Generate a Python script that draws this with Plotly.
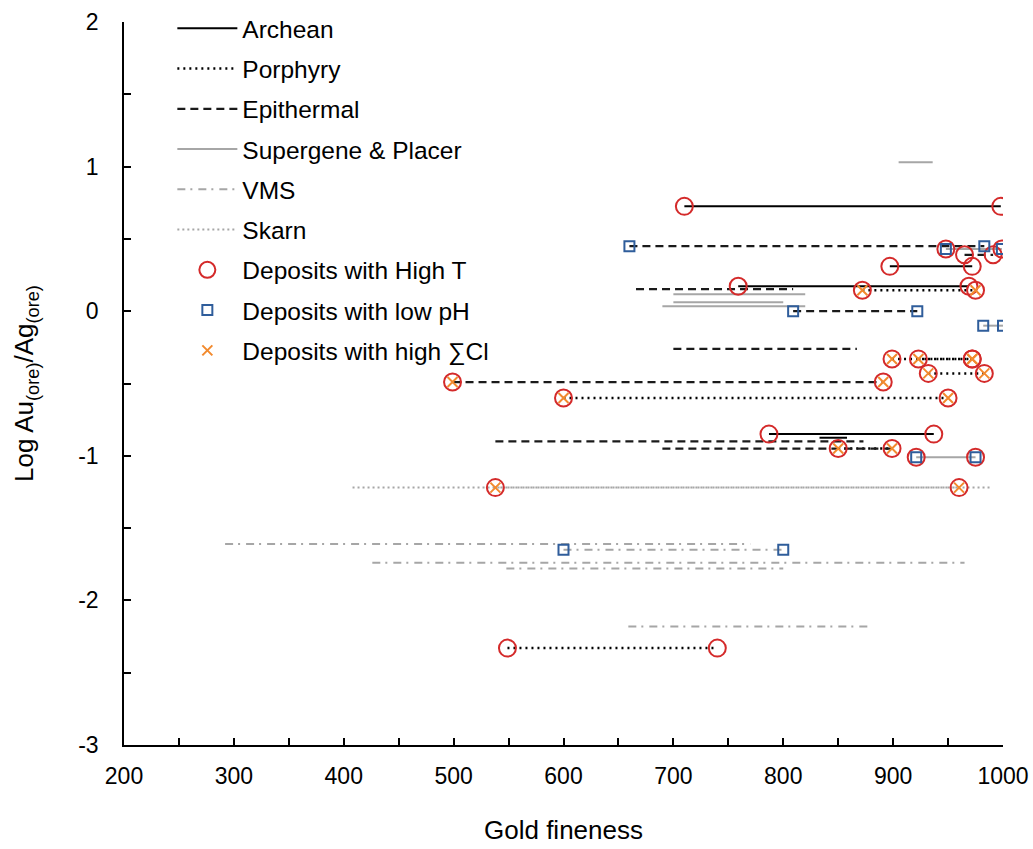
import plotly.graph_objects as go

# Gold fineness ranges of individual deposits (start, end) and log(Au/Ag) of ore
seg_type = [
    "Supergene & Placer", "Archean", "Epithermal", "Supergene & Placer", "Epithermal",
    "Archean", "Archean", "Epithermal", "Porphyry",
    "Supergene & Placer", "Supergene & Placer", "Supergene & Placer",
    "Epithermal", "Supergene & Placer", "Epithermal",
    "Porphyry", "Porphyry", "Porphyry", "Epithermal", "Porphyry",
    "Archean", "Archean", "Epithermal", "Epithermal", "Porphyry",
    "Supergene & Placer", "Skarn", "Skarn",
    "VMS", "VMS", "VMS", "VMS", "VMS", "Porphyry",
]
seg_start = [
    905, 710, 660, 948, 965,
    897, 759, 666, 872,
    700, 700, 690,
    809, 982, 700,
    899, 923, 932, 499, 600,
    787, 833, 538, 690, 850,
    921, 408, 538,
    292, 600, 426, 548, 659, 549,
]
seg_end = [
    936, 998, 983, 999, 991,
    972, 969, 809, 975,
    820, 800, 820,
    922, 1000, 867,
    972, 972, 983, 891, 950,
    937, 858, 873, 899, 899,
    975, 990, 960,
    770, 800, 965, 800, 881, 740,
]
seg_log_ratio = [
    1.03, 0.725, 0.45, 0.43, 0.39,
    0.31, 0.173, 0.152, 0.145,
    0.118, 0.062, 0.035,
    0.0, -0.10, -0.26,
    -0.33, -0.33, -0.43, -0.49, -0.60,
    -0.85, -0.875, -0.90, -0.95, -0.95,
    -1.01, -1.22, -1.22,
    -1.61, -1.65, -1.74, -1.78, -2.18, -2.33,
]
# Deposit flags: high temperature, low pH, high total chloride
seg_high_T = [
    0, 1, 0, 1, 1,
    1, 1, 0, 1,
    0, 0, 0,
    0, 0, 0,
    1, 1, 1, 1, 1,
    1, 0, 0, 0, 1,
    1, 0, 1,
    0, 0, 0, 0, 0, 1,
]
seg_low_pH = [
    0, 0, 1, 1, 0,
    0, 0, 0, 0,
    0, 0, 0,
    1, 1, 0,
    0, 0, 0, 0, 0,
    0, 0, 0, 0, 0,
    1, 0, 0,
    0, 1, 0, 0, 0, 0,
]
seg_high_Cl = [
    0, 0, 0, 0, 0,
    0, 0, 0, 1,
    0, 0, 0,
    0, 0, 0,
    1, 1, 1, 1, 1,
    0, 0, 0, 0, 1,
    0, 0, 1,
    0, 0, 0, 0, 0, 0,
]

# Axis tick labels
y_tick_values = [-3, -2, -1, 0, 1, 2]
y_tick_labels = ["-3", "-2", "-1", "0", "1", "2"]

type_order = ["Archean", "Porphyry", "Epithermal", "Supergene & Placer", "VMS", "Skarn"]
type_style = {
    "Archean": dict(color="#000000", width=2, dash="solid"),
    "Porphyry": dict(color="#000000", width=2.5, dash="2px,4px"),
    "Epithermal": dict(color="#1a1a1a", width=2.2, dash="8px,5px"),
    "Supergene & Placer": dict(color="#a6a6a6", width=2, dash="solid"),
    "VMS": dict(color="#a6a6a6", width=2, dash="8px,5px,2px,6px"),
    "Skarn": dict(color="#a6a6a6", width=2, dash="2px,3px"),
}

FONT = "Liberation Sans, Arial, sans-serif"
fig = go.Figure()

for t in type_order:
    xs, ys = [], []
    for k, name in enumerate(seg_type):
        if name == t:
            xs += [seg_start[k], seg_end[k], None]
            ys += [seg_log_ratio[k], seg_log_ratio[k], None]
    fig.add_trace(go.Scatter(
        x=xs, y=ys, mode="lines", name=t, line=type_style[t],
        legendgroup=t, hoverinfo="skip",
    ))


def end_points(flags):
    xs, ys = [], []
    for k, f in enumerate(flags):
        if f:
            xs += [seg_start[k], seg_end[k]]
            ys += [seg_log_ratio[k], seg_log_ratio[k]]
    return xs, ys


marker_sets = [
    ("Deposits with High T", seg_high_T,
     dict(symbol="circle-open", size=17, color="#d42a2a", line=dict(width=2, color="#d42a2a"))),
    ("Deposits with low pH", seg_low_pH,
     dict(symbol="square-open", size=10, color="#2f5d9b", line=dict(width=2, color="#2f5d9b"))),
    ("Deposits with high \u2211Cl", seg_high_Cl,
     dict(symbol="x-thin-open", size=10, color="#f28a2e", line=dict(width=2, color="#f28a2e"))),
]
for name, flags, mk in marker_sets:
    mx, my = end_points(flags)
    fig.add_trace(go.Scatter(
        x=mx, y=my, mode="markers", name=name, marker=mk,
        legendgroup=name, hoverinfo="skip",
    ))

fig.update_layout(
    width=1033, height=849,
    margin=dict(l=124, r=30, t=22, b=104, autoexpand=False),
    paper_bgcolor="white", plot_bgcolor="white",
    font=dict(family=FONT, size=23, color="#000000"),
    showlegend=True,
    legend=dict(
        x=0.055, y=0.993, xanchor="left", yanchor="top", yref="container",
        bgcolor="rgba(0,0,0,0)", font=dict(size=24.5),
        traceorder="grouped", tracegroupgap=5.4, itemwidth=60,
    ),
    xaxis=dict(
        range=[200, 1000], dtick=100, tick0=200, automargin=False,
        ticks="inside", ticklen=7, tickwidth=1.5, tickcolor="#000",
        minor=dict(dtick=50, ticks="inside", ticklen=7, tickwidth=1.5, tickcolor="#000"),
        showline=True, linecolor="#000", linewidth=1.5,
        showgrid=False, zeroline=False,
        title=dict(text="Gold fineness", standoff=32, font=dict(size=26)),
        tickfont=dict(size=23), ticklabelstandoff=10,
    ),
    yaxis=dict(
        range=[-3, 2], tickvals=y_tick_values, ticktext=y_tick_labels, automargin=False,
        ticks="inside", ticklen=7, tickwidth=1.5, tickcolor="#000",
        minor=dict(dtick=0.5, ticks="inside", ticklen=7, tickwidth=1.5, tickcolor="#000"),
        showline=True, linecolor="#000", linewidth=1.5,
        showgrid=False, zeroline=False,
        title=dict(text="Log Au<sub>(ore)</sub>/Ag<sub>(ore)</sub>", standoff=37, font=dict(size=26)),
        tickfont=dict(size=23), ticklabelstandoff=19,
    ),
)

fig.write_html("out.html")
